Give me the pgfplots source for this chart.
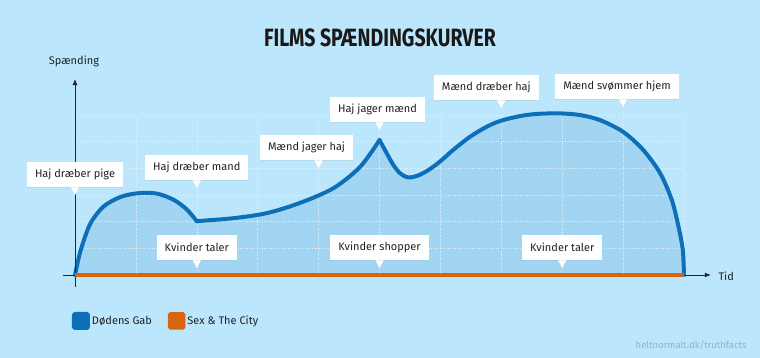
\documentclass[border=0pt]{standalone}
\usepackage{fontspec}
\setmainfont{Fira Sans}
\newfontfamily\titlefont[FakeStretch=0.78]{Fira Sans}
\usepackage{pgfplots}
\usepackage{pgfplotstable}
\pgfplotsset{compat=1.18}
\usetikzlibrary{arrows.meta,shadows}
\definecolor{bgc}{RGB}{188,230,252}
\definecolor{fillc}{RGB}{162,213,242}
\definecolor{curvec}{RGB}{12,111,184}
\definecolor{orangec}{RGB}{215,100,16}
\definecolor{textc}{RGB}{34,34,34}
\definecolor{creditc}{RGB}{150,176,196}
\definecolor{gridc}{RGB}{222,241,252}
\tikzset{callout/.style={fill=white, text=textc, font=\fontsize{11bp}{13bp}\selectfont,
  inner xsep=8bp, inner ysep=0pt, minimum height=25bp, anchor=south,
  drop shadow={shadow xshift=0bp, shadow yshift=-1bp, opacity=0.12}}}
\newcommand{\callout}[4]{%
  \fill[white] (axis cs:#1,#2) -- ++(-4.5bp,8.5bp) -- ++(9bp,0bp) -- cycle;
  \node[callout, xshift=#3bp, yshift=8bp] at (axis cs:#1,#2) {#4};
}
\pgfplotstableread{
x y
0 0
0.09 0.9
0.25 1.92
0.47 2.57
0.75 2.93
1.05 3.07
1.35 3.05
1.62 2.82
1.83 2.47
2.0 2.02
}\segA
\pgfplotstableread{
x y
2.0 2.02
2.6 2.13
3.15 2.32
3.69 2.7
4.24 3.25
4.68 4.05
5.0 5.06
}\segB
\pgfplotstableread{
x y
5.0 5.06
5.12 4.56
5.23 4.12
5.34 3.81
5.47 3.66
5.62 3.72
5.8 3.93
5.99 4.25
6.21 4.69
6.49 5.19
6.76 5.56
7.0 5.79
7.31 5.96
7.58 6.04
7.96 6.06
8.29 6.0
8.62 5.81
9.0 5.37
9.33 4.69
9.61 3.81
9.80 2.81
9.91 1.81
9.98 0.94
10 0
}\segC
\begin{document}
\begin{tikzpicture}
\node[font=\titlefont\bfseries\fontsize{25bp}{28bp}\selectfont, text=black!90] at (380bp,320.5bp) {FILMS SPÆNDINGSKURVER};
\node[font=\fontsize{11bp}{13bp}\selectfont, text=textc] at (74bp,297bp) {Spænding};
\node[font=\fontsize{11bp}{13bp}\selectfont, text=textc, anchor=west] at (715bp,82bp) {Tid};
\node[font=\fontsize{9.5bp}{11bp}\selectfont, text=creditc, anchor=east] at (750bp,13bp) {heltnormalt.dk/truthfacts};
\begin{axis}[
  at={(75bp,83bp)}, anchor=south west,
  scale only axis, width=609bp, height=160bp,
  xmin=0, xmax=10, ymin=0, ymax=6,
  xtick={0,...,10}, ytick={0,...,6},
  xticklabels={}, yticklabels={},
  tick style={draw=none},
  axis line style={draw=none},
  grid=major,
  major grid style={gridc, dotted, line width=0.6bp},
  set layers, clip=false,
  legend style={at={(-0.005,-0.2875)}, anchor=west, draw=none, fill=none,
    inner sep=0pt, outer sep=0pt, font=\fontsize{11bp}{13bp}\selectfont, text=textc,
    /tikz/every even column/.append style={column sep=14bp}},
  legend columns=2,
  legend cell align=left,
]
\begin{pgfonlayer}{axis background}
\fill[bgc] (rel axis cs:-0.12315,-0.51875) rectangle (rel axis cs:1.12479,1.71875);
\end{pgfonlayer}
% fills
\addplot[draw=fillc, line width=0.4bp, fill=fillc, smooth, on layer=axis background, forget plot] table {\segA} \closedcycle;
\addplot[draw=fillc, line width=0.4bp, fill=fillc, smooth, on layer=axis background, forget plot] table {\segB} \closedcycle;
\addplot[draw=fillc, line width=0.4bp, fill=fillc, smooth, on layer=axis background, forget plot] table {\segC} \closedcycle;
% curves
\addplot[curvec, line width=4bp, smooth, line cap=round, line join=round,
  legend image code/.code={\fill[curvec, rounded corners=1bp] (0bp,-7bp) rectangle (14bp,7bp);}] table {\segA};
\addlegendentry{Dødens Gab}
\addplot[curvec, line width=4bp, smooth, line cap=round, line join=round, forget plot] table {\segB};
\addplot[curvec, line width=4bp, smooth, line cap=round, line join=round, forget plot] table {\segC};
% axes
\draw[black!85, line width=0.8bp, -{Latex[length=6bp,width=5bp]}] (axis cs:0,-0.45) -- (axis cs:0,7.35);
\draw[black!85, line width=0.8bp, -{Latex[length=6bp,width=5bp]}] (axis cs:-0.2,0) -- (axis cs:10.44,0);
\addplot[orangec, line width=3.5bp,
  legend image code/.code={\fill[orangec, rounded corners=1bp] (0bp,-7bp) rectangle (14bp,7bp);}] coordinates {(0,0) (10,0)};
\addlegendentry{Sex \& The City}
% callouts
\callout{0}{3.0}{0}{Haj dræber pige}
\callout{2}{3.26}{0}{Haj dræber mand}
\callout{4}{4.01}{-12}{Mænd jager haj}
\callout{5}{5.44}{-2}{Haj jager mænd}
\callout{7}{6.26}{-15}{Mænd dræber haj}
\callout{9}{6.3}{-6}{Mænd svømmer hjem}
\callout{2}{0.26}{0}{Kvinder taler}
\callout{5}{0.26}{0}{Kvinder shopper}
\callout{8}{0.26}{0}{Kvinder taler}
\end{axis}
\pgfresetboundingbox
\path (0,0) rectangle (760bp,358bp);
\end{tikzpicture}
\end{document}
